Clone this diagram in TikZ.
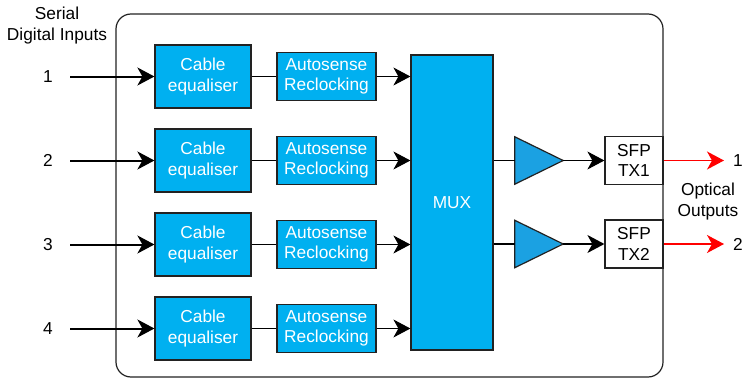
\documentclass[tikz,border=0pt]{standalone}
\usepackage{fontspec}
\setmainfont{Liberation Sans}
\usetikzlibrary{arrows.meta}
\definecolor{boxblue}{HTML}{00B0F0}
\definecolor{ampblue}{HTML}{1BA1E2}
\definecolor{edge}{HTML}{222222}
\begin{document}
\begin{tikzpicture}[x=1pt,y=-1pt,
  every node/.style={font=\fontsize{17.3}{20.5}\selectfont},
  bluebox/.style={draw=edge,line width=1.2pt,fill=boxblue,text=white,align=center,inner sep=0pt},
  cebox/.style={bluebox,minimum width=96pt,minimum height=63pt},
  asbox/.style={bluebox,minimum width=99pt,minimum height=48pt},
  sfpbox/.style={draw=edge,line width=1.2pt,fill=white,align=center,inner sep=0pt,minimum width=58pt,minimum height=48pt},
  ampbox/.style={inner sep=0pt,minimum width=48pt,minimum height=47pt},
  lbl/.style={align=center,inner sep=0pt},
  tip/.style={-{Stealth[length=17pt,width=18pt,inset=5pt]}},
  inarrow/.style={tip,line width=2pt,black},
  thin/.style={line width=1.3pt,black},
  thinarrow/.style={tip,line width=1.3pt,black},
  redarrow/.style={-{Stealth[length=17pt,width=18pt,inset=5pt,fill=red]},line width=1.3pt,red}
]
\useasboundingbox (0,0) rectangle (745,380);
% outer frame
\draw[edge,line width=1.2pt,rounded corners=15pt] (116,14) rectangle (663,377);

\node[lbl] (title) at (57,25.5) {Serial\\Digital Inputs};
\node[lbl] (otitle) at (708,201.5) {Optical\\Outputs};

\node[bluebox,minimum width=82pt,minimum height=295pt] (mux) at (452,202.5) {MUX};

\foreach \i/\y in {1/76.5,2/160.5,3/244.5,4/328.5}{
  \node[lbl] (in\i) at (48,\y) {\i};
  \coordinate (s\i) at (70,\y);
  \node[cebox] (ce\i) at (203,\y) {Cable\\equaliser};
  \node[asbox] (as\i) at (326.5,\y) {Autosense\\Reclocking};
  \draw[inarrow] (s\i) -- (ce\i.west);
  \draw[thin] (ce\i.east) -- (as\i.west);
  \draw[thinarrow] (as\i.east) -- (as\i.east -| mux.west);
}

\foreach \j/\y in {1/160.5,2/244}{
  \node[ampbox] (amp\j) at (539,\y) {};
  \draw[edge,line width=1.2pt,fill=ampblue] (amp\j.north west) -- (amp\j.east) -- (amp\j.south west) -- cycle;
  \node[sfpbox] (sfp\j) at (634,\y) {SFP\\TX\j};
  \node[lbl] (out\j) at (738,\y) {\j};
  \coordinate (e\j) at (724,\y);
  \draw[thin] (amp\j.west -| mux.east) -- (amp\j.west);
  \draw[thinarrow] (amp\j.east) -- (sfp\j.west);
  \draw[redarrow] (sfp\j.east) -- (e\j);
}
\end{tikzpicture}
\end{document}
